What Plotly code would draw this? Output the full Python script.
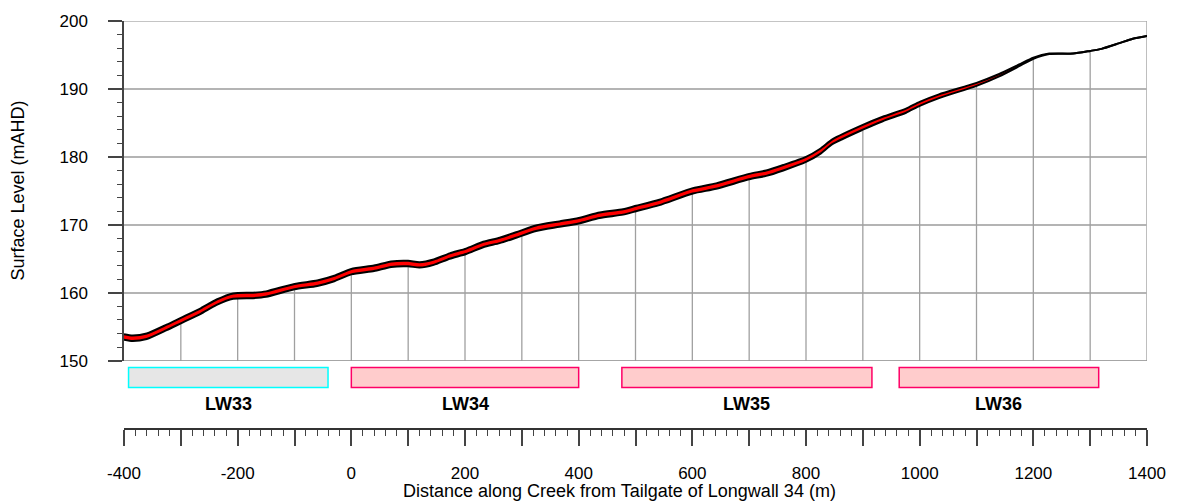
import numpy as np
import plotly.graph_objects as go

# ---- data ----
distance = [-400, -385, -360, -325, -300, -265, -237, -208, -173, -150, -100, -60, -30, 0,
            40, 70, 100, 120, 145, 173, 202, 232, 261, 290, 325, 366, 400, 437, 478, 501,
            542, 601, 642, 700, 730, 760, 800, 825, 847, 900, 935, 976, 1000, 1034, 1100,
            1140, 1175, 1200, 1228, 1270, 1300, 1320, 1350, 1375, 1400]
level_pre = [153.9, 153.7, 154.0, 155.3, 156.3, 157.7, 159.0, 159.9, 160.0, 160.2, 161.3,
             161.8, 162.5, 163.5, 164.0, 164.6, 164.7, 164.5, 164.9, 165.8, 166.5, 167.5,
             168.1, 168.9, 169.9, 170.5, 171.0, 171.8, 172.3, 172.8, 173.7, 175.4, 176.1,
             177.5, 178.0, 178.8, 180.0, 181.2, 182.6, 184.7, 185.9, 187.1, 188.1, 189.2,
             190.9, 192.2, 193.6, 194.6, 195.2, 195.2, 195.6, 195.9, 196.7, 197.4, 197.8]
subsidence = [0.8, 0.8, 0.8, 0.8, 0.8, 0.8, 0.8, 0.8, 0.8, 0.8, 0.8, 0.8, 0.8, 0.8,
              0.8, 0.8, 0.8, 0.8, 0.8, 0.8, 0.8, 0.8, 0.8, 0.8, 0.8, 0.8, 0.8, 0.8, 0.8, 0.8,
              0.8, 0.8, 0.8, 0.8, 0.8, 0.8, 0.75, 0.75, 0.7, 0.7, 0.65, 0.6, 0.6, 0.55, 0.45,
              0.35, 0.25, 0.15, 0.05, 0.0, 0.0, 0.0, 0.0, 0.0, 0.0]

panels = ["LW33", "LW34", "LW35", "LW36"]
panel_start = [-392, 0, 476, 964]
panel_end = [-41, 400, 916, 1315]
panel_line = ["#00ffff", "#ff0066", "#ff0066", "#ff0066"]
panel_fill = ["#e6e6e6", "#ffcccc", "#ffcccc", "#ffcccc"]

y_ticks = [150, 160, 170, 180, 190, 200]
x_ticks = list(range(-400, 1401, 100))
x_labels = [str(v) if v % 200 == 0 else "" for v in x_ticks]
grid_x = list(range(-300, 1301, 100))

FONT = "Liberation Sans, Arial, sans-serif"

level_post = (np.array(level_pre) - np.array(subsidence)).tolist()

fig = go.Figure()

# vertical gridlines from the base up to the ground surface
gx, gy = [], []
for g in grid_x:
    top = float(np.interp(g, distance, level_post))
    gx += [g, g, None]
    gy += [150, top, None]
fig.add_trace(go.Scatter(x=gx, y=gy, mode="lines", line=dict(color="#a0a0a0", width=1.3),
                         hoverinfo="skip", showlegend=False))

fig.add_trace(go.Scatter(x=distance, y=level_pre, mode="lines",
                         line=dict(color="black", width=2, shape="spline", smoothing=0.6),
                         showlegend=False))
fig.add_trace(go.Scatter(x=distance, y=level_post, mode="lines", fill="tonexty",
                         fillcolor="#ff0000",
                         line=dict(color="black", width=2, shape="spline", smoothing=0.6),
                         showlegend=False))

H = 412.0
def py(p):
    return (429 - p) / H

shapes = []
shapes.append(dict(type="line", xref="x", yref="y", x0=-400, x1=1400, y0=200, y1=200,
                   line=dict(color="#b0b0b0", width=1.5), layer="below"))
shapes.append(dict(type="line", xref="x", yref="y", x0=1400, x1=1400, y0=150, y1=200,
                   line=dict(color="#a8a8a8", width=1.5), layer="below"))
shapes.append(dict(type="line", xref="x", yref="y", x0=-400, x1=1400, y0=150, y1=150,
                   line=dict(color="#888888", width=1.5), layer="above"))
for name, s, e, lc, fc in zip(panels, panel_start, panel_end, panel_line, panel_fill):
    shapes.append(dict(type="rect", xref="x", yref="paper", x0=s, x1=e, y0=py(387), y1=py(367),
                       line=dict(color=lc, width=1.5), fillcolor=fc))

annotations = []
for name, s, e in zip(panels, panel_start, panel_end):
    annotations.append(dict(x=(s + e) / 2, y=py(404), xref="x", yref="paper", text="<b>%s</b>" % name,
                            showarrow=False, font=dict(family=FONT, size=18, color="black"),
                            xanchor="center", yanchor="middle"))
annotations.append(dict(x=(620 - 124) / 1024.0, y=py(492), xref="paper", yref="paper",
                        text="Distance along Creek from Tailgate of Longwall 34 (m)",
                        showarrow=False, font=dict(family=FONT, size=18, color="black"),
                        xanchor="center", yanchor="middle"))
annotations.append(dict(x=(18 - 124) / 1024.0, y=py(188), xref="paper", yref="paper",
                        text="Surface Level (mAHD)", textangle=-90,
                        showarrow=False, font=dict(family=FONT, size=18, color="black"),
                        xanchor="center", yanchor="middle"))

fig.update_layout(
    width=1178, height=502,
    margin=dict(l=124, r=30, t=17, b=73),
    paper_bgcolor="white", plot_bgcolor="white",
    font=dict(family=FONT, size=17, color="black"),
    shapes=shapes, annotations=annotations,
    xaxis=dict(range=[-400, 1400], anchor="free", position=0, showgrid=False, zeroline=False,
               showline=True, linecolor="#333333", linewidth=1.5,
               tickmode="array", tickvals=x_ticks, ticktext=x_labels,
               ticks="outside", ticklen=16, tickwidth=1.5, tickcolor="#444444",
               minor=dict(dtick=20, tick0=0, ticks="outside", ticklen=6, tickwidth=1.2,
                          tickcolor="#444444", showgrid=False),
               ticklabelstandoff=13,
               tickfont=dict(family=FONT, size=17, color="black")),
    yaxis=dict(range=[150, 200], domain=[(429 - 360) / H, 1.0], showgrid=True,
               gridcolor="#b4b4b4", gridwidth=1.5, zeroline=False,
               showline=True, linecolor="#444444", linewidth=1.5,
               tickmode="array", tickvals=y_ticks,
               ticks="outside", ticklen=14, tickwidth=1.5, tickcolor="#444444",
               minor=dict(dtick=2, tick0=150, ticks="outside", ticklen=5, tickwidth=1.2,
                          tickcolor="#444444", showgrid=False),
               ticklabelstandoff=17,
               tickfont=dict(family=FONT, size=17, color="black")),
)

fig.write_html("out.html", config={"displayModeBar": False})

# remove the default page margin so the figure sits at the window origin
with open("out.html", "r", encoding="utf-8") as f:
    html = f.read()
html = html.replace("<head>", "<head><style>html,body{margin:0;padding:0;overflow:hidden;}</style>", 1)
with open("out.html", "w", encoding="utf-8") as f:
    f.write(html)
